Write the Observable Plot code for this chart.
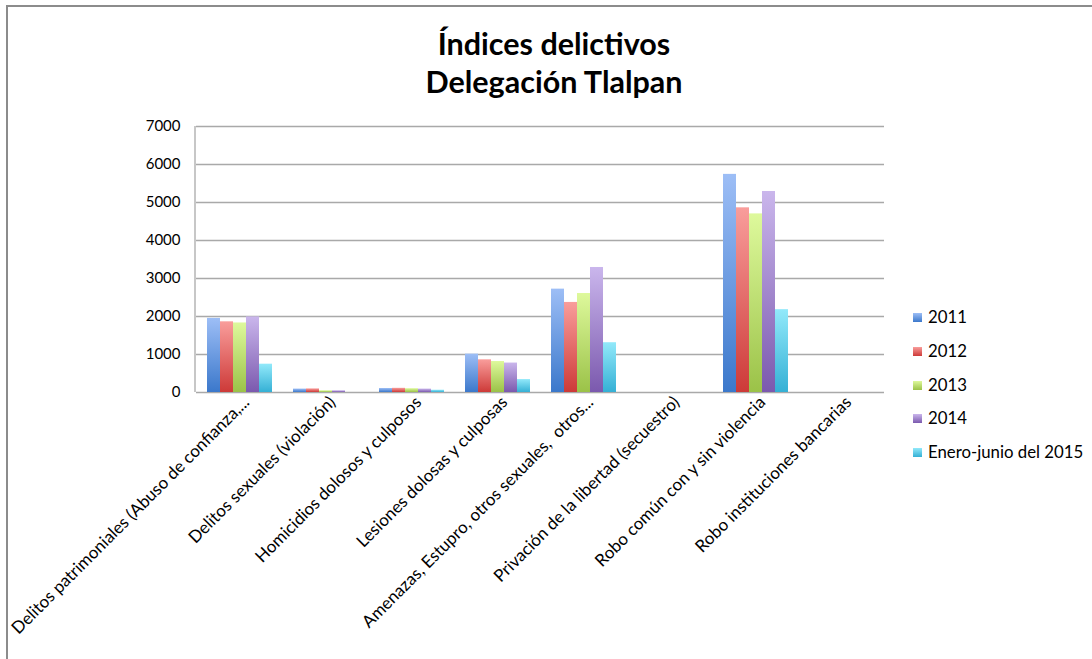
<!DOCTYPE html>
<html><head><meta charset="utf-8">
<script src="https://cdn.jsdelivr.net/npm/d3@7"></script>
<script src="https://cdn.jsdelivr.net/npm/@observablehq/plot@0.6"></script>
<style>
body{margin:0;background:#fff;font-family:Lato,"Open Sans",sans-serif;color:#000;}
#wrap{position:relative;width:1092px;height:659px;overflow:hidden;background:#fff;}
#border{position:absolute;left:6px;top:5px;width:1200px;height:800px;border-left:2px solid #8c8c8c;border-top:2px solid #8c8c8c;}
#title{position:absolute;left:0;top:24px;width:1108px;text-align:center;font-weight:bold;font-size:30.5px;line-height:38px;}
#chart{position:absolute;left:0;top:0;}
.li{position:absolute;left:913px;height:20px;line-height:20px;font-size:16.8px;white-space:nowrap;}
.sw{display:inline-block;width:9px;height:9px;margin-right:6px;vertical-align:1px;}
#chart svg text{white-space:pre;}
</style></head>
<body>
<div id="wrap">
  <div id="border"></div>
  <div id="chart"></div>
  <div id="title">Índices delictivos<br>Delegación Tlalpan</div>
  <div id="legend"></div>
</div>
<script>
const categories = [
  "Delitos patrimoniales (Abuso de confianza,...",
  "Delitos sexuales (violación)",
  "Homicidios dolosos y culposos",
  "Lesiones dolosas y culposas",
  "Amenazas, Estupro, otros sexuales,  otros...",
  "Privación de la libertad (secuestro)",
  "Robo común con y sin violencia",
  "Robo instituciones bancarias"
];
const years = ["2011", "2012", "2013", "2014", "Enero-junio del 2015"];
const v2011 = [1950, 90, 105, 1010, 2720, 0, 5740, 0];
const v2012 = [1860, 95, 110, 860, 2370, 0, 4860, 0];
const v2013 = [1830, 45, 100, 815, 2605, 0, 4700, 0];
const v2014 = [1990, 45, 90, 775, 3290, 0, 5290, 0];
const v2015 = [745, 0, 60, 340, 1310, 0, 2180, 0];
const yTicks = [0, 1000, 2000, 3000, 4000, 5000, 6000, 7000];

const gradTop = ["#9dbef6", "#f99d9b", "#def99c", "#cab6ec", "#92e9fa"];
const gradBottom = ["#3b78cb", "#cd3a38", "#9bc248", "#7b59ae", "#35b0d5"];

const series = [v2011, v2012, v2013, v2014, v2015];
const data = [];
categories.forEach((c, ci) => years.forEach((y, yi) => data.push({cat: c, year: y, value: series[yi][ci]})));

const plot = Plot.plot({
  width: 1092, height: 659,
  marginTop: 126, marginBottom: 267, marginLeft: 195, marginRight: 207,
  style: {fontFamily: "Lato, 'Open Sans', sans-serif", color: "#000", background: "transparent"},
  fx: {domain: categories, padding: 0},
  x: {domain: years, paddingInner: 0, paddingOuter: 0.72, axis: null},
  y: {domain: [0, 7000]},
  color: {domain: years, range: years.map((_, i) => `url(#grad${i})`)},
  marks: [
    Plot.gridY({ticks: yTicks, stroke: "#a9a9a9", strokeOpacity: 1, strokeWidth: 1.3}),
    Plot.barY(data, {fx: "cat", x: "year", y: "value", fill: "year", inset: 0}),
    Plot.axisY({ticks: yTicks, tickSize: 0, tickPadding: 16, fontSize: 15, label: null, tickFormat: d => String(d)}),
    Plot.axisFx({anchor: "bottom", tickRotate: -45, tickSize: 0, tickPadding: 7, dx: 7, fontSize: 17, label: null})
  ]
});

const svg = d3.select(plot);
const defs = svg.insert("defs", ":first-child");
years.forEach((y, i) => {
  const g = defs.append("linearGradient").attr("id", `grad${i}`).attr("x1", 0).attr("y1", 0).attr("x2", 0).attr("y2", 1);
  g.append("stop").attr("offset", "0%").attr("stop-color", gradTop[i]);
  g.append("stop").attr("offset", "100%").attr("stop-color", gradBottom[i]);
});
// left axis line from the library's scales
const ySc = plot.scale("y"), fxSc = plot.scale("fx");
svg.append("line")
  .attr("x1", fxSc.range[0]).attr("x2", fxSc.range[0])
  .attr("y1", ySc.range[0]).attr("y2", ySc.range[1])
  .attr("stroke", "#a9a9a9").attr("stroke-width", 1.3);
document.getElementById("chart").appendChild(plot);

const leg = document.getElementById("legend");
years.forEach((y, i) => {
  const d = document.createElement("div");
  d.className = "li";
  d.style.top = (307 + i * 33.75) + "px";
  d.innerHTML = `<span class="sw" style="background:linear-gradient(${gradTop[i]},${gradBottom[i]})"></span>${y}`;
  leg.appendChild(d);
});
</script>
</body></html>
